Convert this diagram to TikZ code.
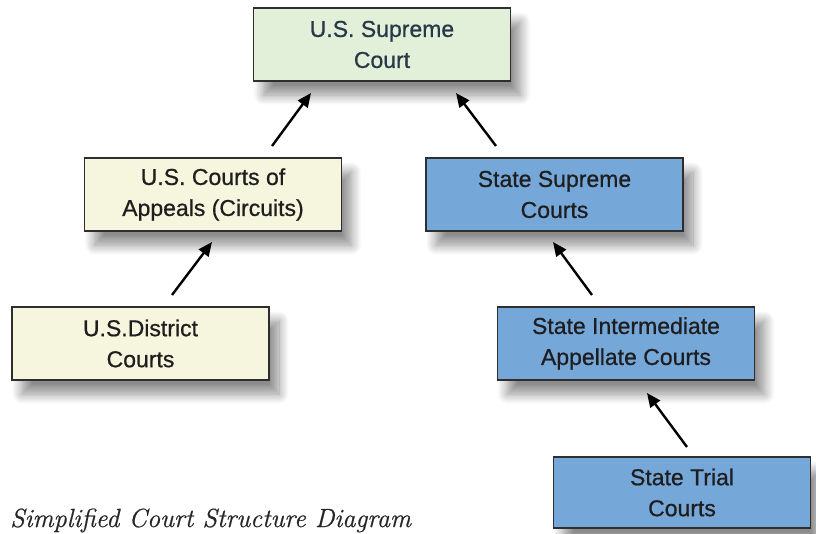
\documentclass[tikz,border=0pt]{standalone}
\usepackage{fontspec}
\newfontfamily\boxfont[FakeBold=0.7]{Liberation Sans}
\newfontfamily\captionfont[ItalicFeatures={FakeBold=0.6}]{Latin Modern Roman}
\usetikzlibrary{arrows.meta,shadows.blur}

\definecolor{fedgreen}{HTML}{E2EFD9}
\definecolor{fedyellow}{HTML}{F6F5DD}
\definecolor{stateblue}{HTML}{76A7D9}
\definecolor{boxline}{HTML}{2E2E2E}
\definecolor{toptext}{HTML}{283848}
\definecolor{bodytext}{HTML}{1E1E1E}

\tikzset{
  court/.style={draw=boxline, line width=1.6pt, rectangle,
    minimum width=257pt, minimum height=73pt, inner sep=0pt,
    align=center, text=bodytext,
    font=\boxfont\fontsize{23}{31}\selectfont,
    blur shadow={shadow xshift=10pt, shadow yshift=-14pt,
      shadow blur radius=10pt, shadow blur steps=14, shadow opacity=45}},
  fedtop/.style={court, fill=fedgreen, text=toptext},
  fed/.style={court, fill=fedyellow},
  statecourt/.style={court, fill=stateblue},
  appeal/.style={line width=2.4pt, draw=black,
    -{Triangle[length=14pt,width=12pt]}}
}

\begin{document}
\begin{tikzpicture}[x=1pt, y=-1pt]
  \useasboundingbox (0,0) rectangle (816,533);

  % courts
  \node[fedtop]     (sup) at (382,44.5)   {U.S. Supreme\\Court};
  \node[fed]        (app) at (213,194.5)  {U.S. Courts of\\Appeals (Circuits)};
  \node[statecourt] (ssc) at (554.5,194.5){State Supreme\\Courts};
  \node[fed]        (dis) at (140.5,343.5){U.S.District\\Courts};
  \node[statecourt] (int) at (626,343.5)  {State Intermediate\\Appellate Courts};
  \node[statecourt, minimum height=71pt] (tri) at (682,492.5) {State Trial\\Courts};

  % appeal paths (free-standing arrows between the boxes)
  \coordinate (appT) at (272,146); \coordinate (supL) at (311,93);
  \coordinate (sscT) at (496,146); \coordinate (supR) at (456,93);
  \coordinate (disT) at (172,295); \coordinate (appB) at (212,242);
  \coordinate (intT) at (592,295); \coordinate (sscB) at (553,242);
  \coordinate (triT) at (687,447); \coordinate (intB) at (647,393);

  \draw[appeal] (appT) -- (supL);
  \draw[appeal] (sscT) -- (supR);
  \draw[appeal] (disT) -- (appB);
  \draw[appeal] (intT) -- (sscB);
  \draw[appeal] (triT) -- (intB);

  % caption
  \node[anchor=base west, inner sep=0pt, text=black!85,
        font=\captionfont\itshape\fontsize{26.3}{30}\selectfont] (cap) at (10,527)
        {Simplified Court Structure Diagram};
\end{tikzpicture}
\end{document}
